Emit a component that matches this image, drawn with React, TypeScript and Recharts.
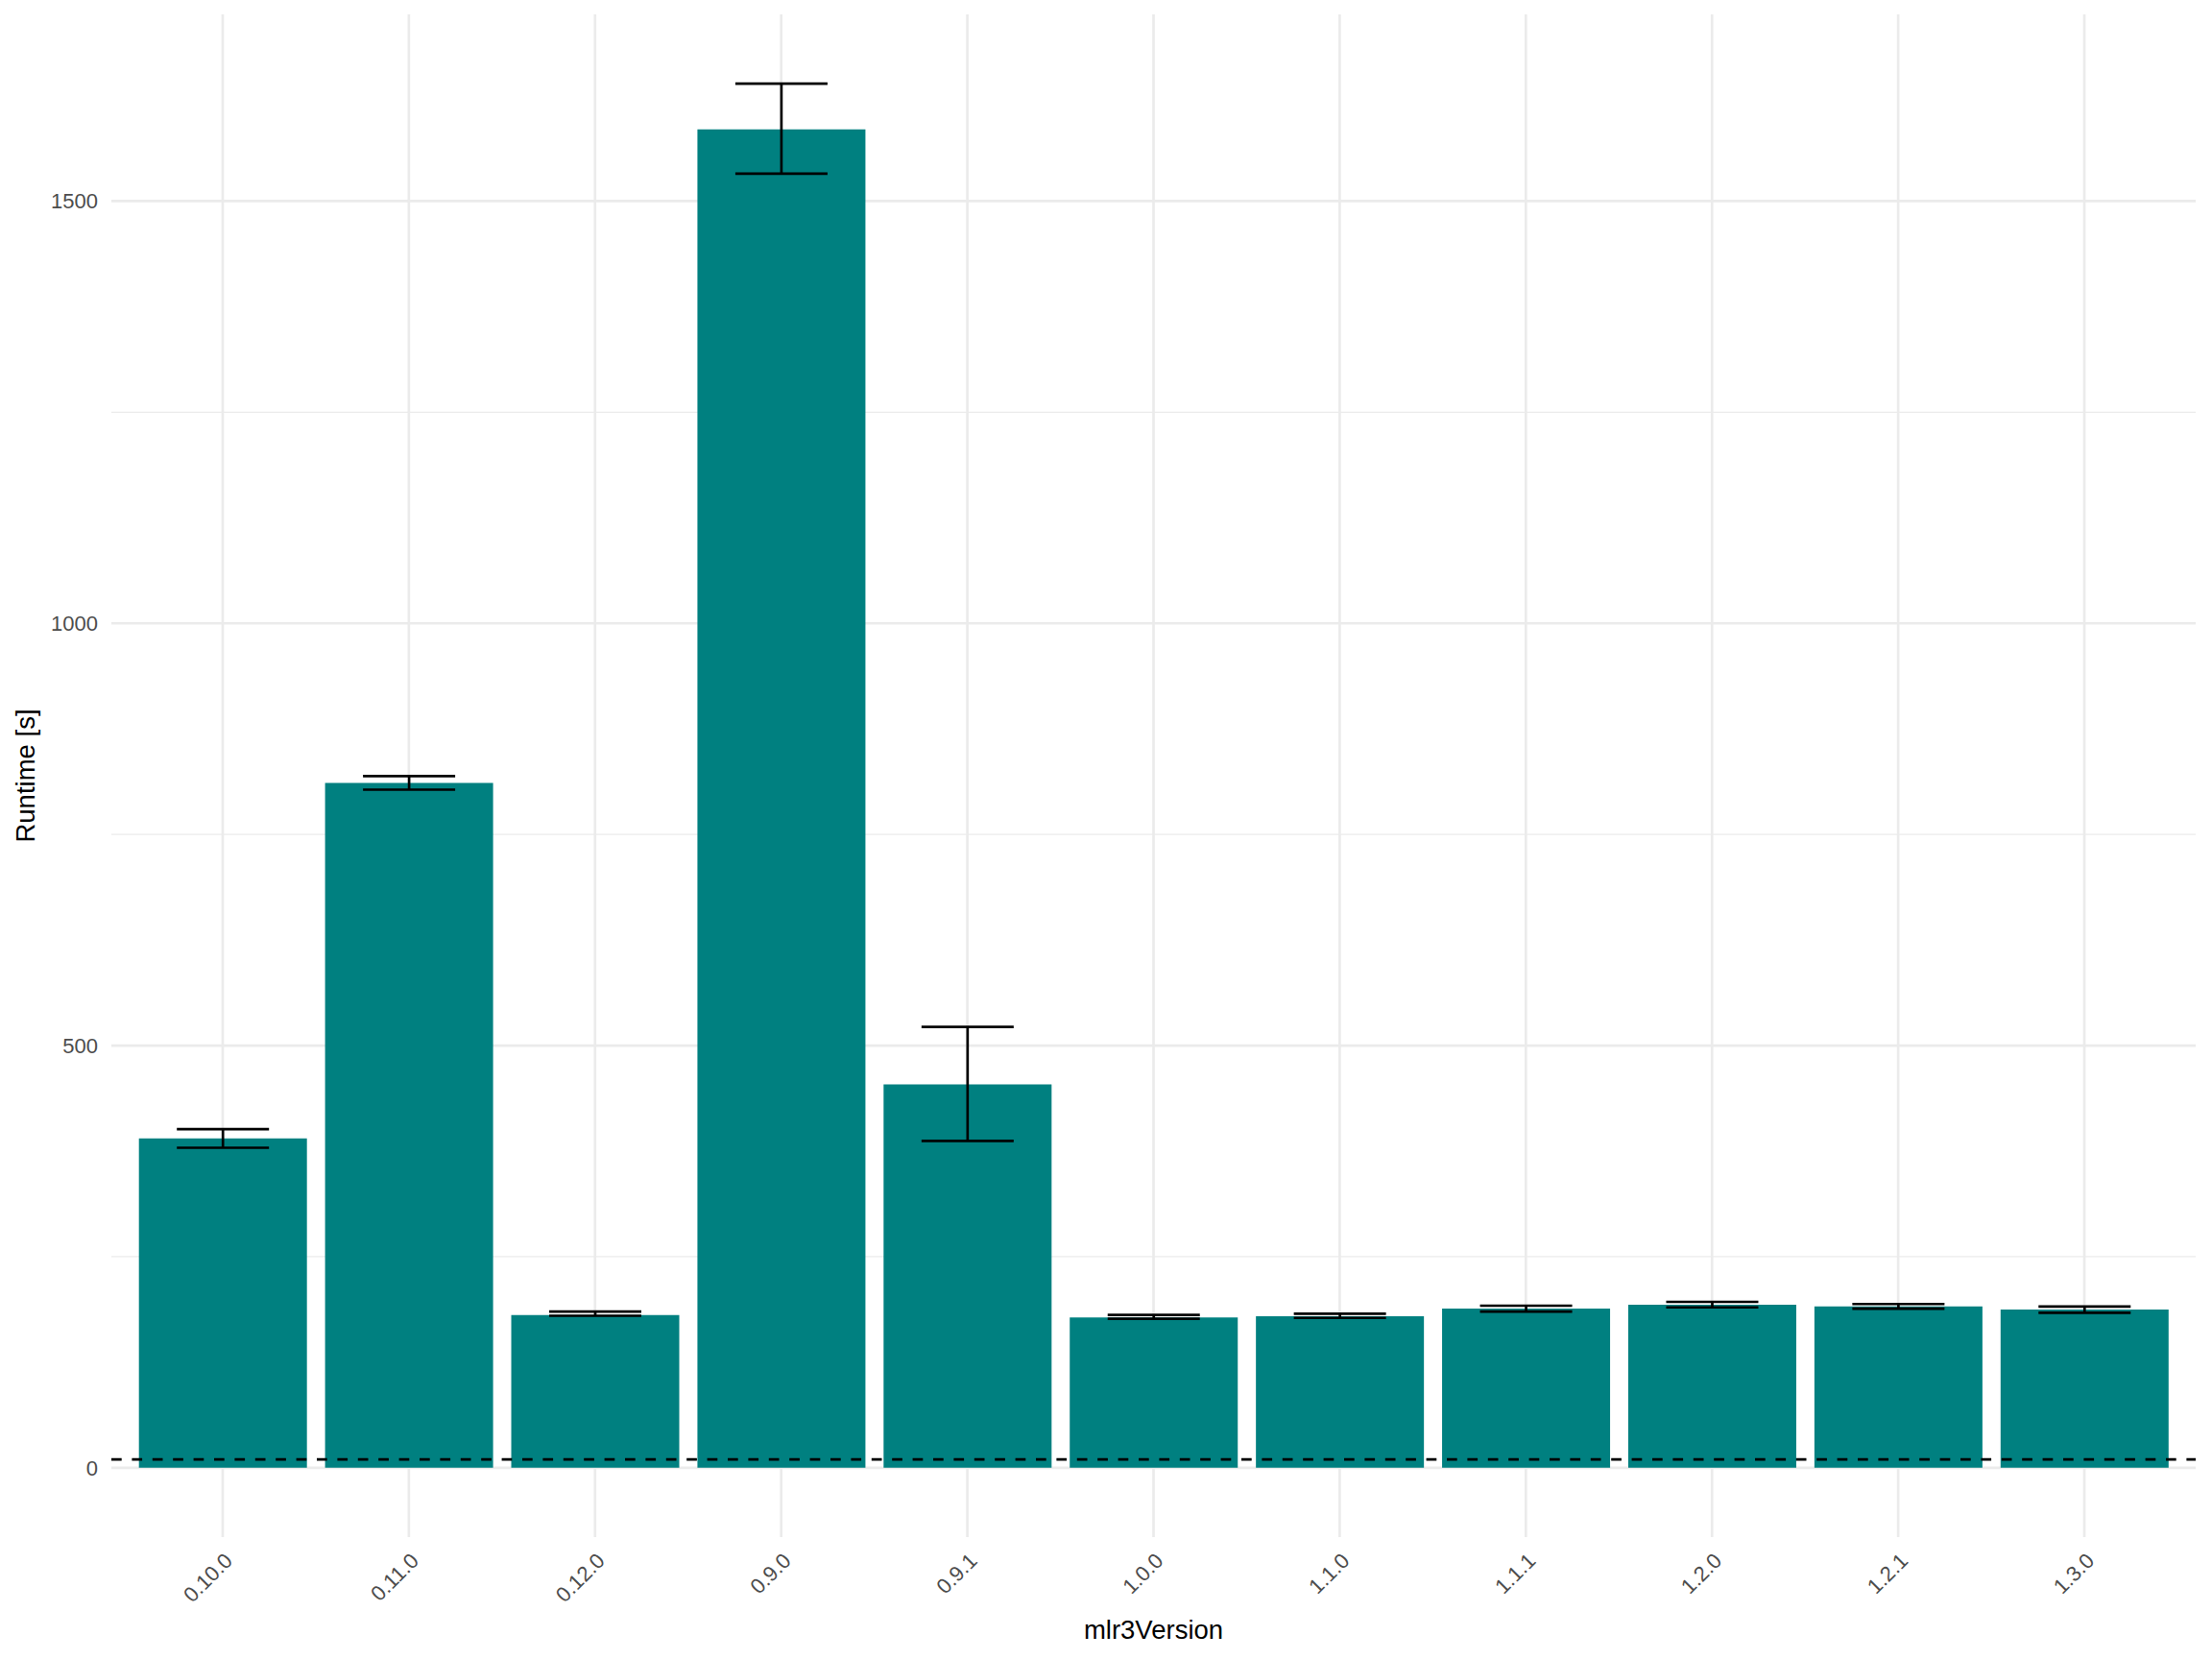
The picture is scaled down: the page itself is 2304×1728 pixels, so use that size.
import React from "react";
import {
  BarChart,
  Bar,
  XAxis,
  YAxis,
  CartesianGrid,
  ErrorBar,
  ReferenceLine,
} from "recharts";

const versions = ["0.10.0", "0.11.0", "0.12.0", "0.9.0", "0.9.1", "1.0.0", "1.1.0", "1.1.1", "1.2.0", "1.2.1", "1.3.0"];
const runtime = [390, 811, 181, 1585, 454, 178, 179.5, 188.5, 193, 191, 187.5];
const lower = [379, 803, 180, 1532.5, 387, 176.5, 177.5, 185, 190, 188.5, 183.5];
const upper = [401, 819, 185, 1639, 522, 181, 182.5, 192, 196.5, 194, 191];
const yTicks = [0, 500, 1000, 1500];
const yMinor = [250, 750, 1250];
const baseline = 10;

const data = versions.map((v, i) => ({
  version: v,
  runtime: runtime[i],
  err: [runtime[i] - lower[i], upper[i] - runtime[i]],
}));

const FONT = '"Liberation Sans", Arial, Helvetica, sans-serif';
const GRID = "#EBEBEB";

const XTick = (props: any) => {
  const { x, y, payload } = props;
  const tx = x + 11.5;
  const ty = y + 26;
  return (
    <text
      x={tx}
      y={ty}
      transform={`rotate(-45, ${tx}, ${ty})`}
      textAnchor="end"
      fontSize={22}
      fontFamily={FONT}
      fill="#4D4D4D">
      {payload.value}
    </text>
  );
};

const YTick = (props: any) => {
  const { x, y, payload } = props;
  return (
    <text x={x - 14} y={y + 8} textAnchor="end" fontSize={22} fontFamily={FONT} fill="#4D4D4D">
      {payload.value}
    </text>
  );
};

export default function App() {
  return (
    <div style={{ position: "absolute", left: 0, top: 0, width: 2304, height: 1728, background: "#fff" }}>
      <BarChart
        width={2304}
        height={1728}
        data={data}
        margin={{ top: 15, right: 17, bottom: 0, left: 0 }}
        barCategoryGap="5%">
        <CartesianGrid stroke={GRID} strokeWidth={1.33} vertical={false} horizontalValues={yMinor} syncWithTicks />
        <CartesianGrid stroke={GRID} strokeWidth={2.67} syncWithTicks />
        <XAxis
          dataKey="version"
          interval={0}
          height={127}
          tickLine={false}
          axisLine={false}
          tickSize={0}
          tickMargin={0}
          padding={{ left: 19, right: 19 }}
          tick={<XTick />}
        />
        <YAxis
          type="number"
          width={116}
          domain={[-82, 1721]}
          ticks={yTicks}
          tickLine={false}
          axisLine={false}
          tickSize={0}
          tickMargin={0}
          tick={<YTick />}
        />
        <Bar dataKey="runtime" fill="#008080" isAnimationActive={false}>
          <ErrorBar dataKey="err" direction="y" width={48} stroke="#000" strokeWidth={2.67} isAnimationActive={false} />
        </Bar>
        <ReferenceLine y={baseline} stroke="#000" strokeWidth={2.67} strokeDasharray="10.7 10.7" />
        <text x={1201.5} y={1706.7} textAnchor="middle" fontSize={27.5} fontFamily={FONT} fill="#000">
          mlr3Version
        </text>
        <text
          x={36}
          y={808}
          transform="rotate(-90, 36, 808)"
          textAnchor="middle"
          fontSize={27.5}
          fontFamily={FONT}
          fill="#000">
          Runtime [s]
        </text>
      </BarChart>
    </div>
  );
}
